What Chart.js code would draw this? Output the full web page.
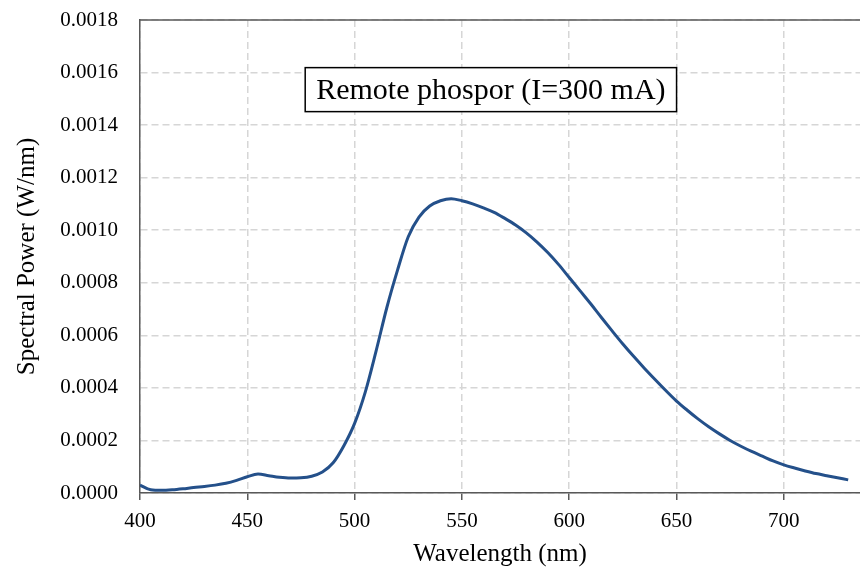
<!DOCTYPE html>
<html>
<head>
<meta charset="utf-8">
<script src="https://cdn.jsdelivr.net/npm/chart.js@4"></script>
<style>
  html, body { margin: 0; padding: 0; background: #fff; }
  #wrap { width: 860px; height: 569px; }
</style>
</head>
<body>
<div id="wrap"><canvas id="spectrum" width="860" height="569"></canvas></div>
<script>
//-------------------------------------------------------------
// Data
//-------------------------------------------------------------
const wavelengths = [
  400, 405, 410, 415, 420, 425, 430, 435, 440, 445,
  450, 455, 460, 465, 470, 475, 480, 485, 490, 495,
  500, 505, 510, 515, 520, 525, 530, 535, 540, 545,
  550, 555, 560, 565, 570, 575, 580, 585, 590, 595,
  600, 605, 610, 615, 620, 625, 630, 635, 640, 645,
  650, 655, 660, 665, 670, 675, 680, 685, 690, 695,
  700, 705, 710, 715, 720, 725, 730
];
const spectralPower = [
  0.000030, 0.000012, 0.000010, 0.000012, 0.000016, 0.000021, 0.000025, 0.000030, 0.000037, 0.000048,
  0.000062, 0.000072, 0.000066, 0.000060, 0.000057, 0.000058, 0.000064, 0.000080, 0.000115, 0.000180,
  0.000265, 0.000385, 0.000540, 0.000705, 0.000848, 0.000975, 0.001050, 0.001092, 0.001112, 0.001120,
  0.001112, 0.001100, 0.001085, 0.001068, 0.001045, 0.001020, 0.000990, 0.000955, 0.000915, 0.000870,
  0.000820, 0.000770, 0.000720, 0.000668, 0.000617, 0.000567, 0.000520, 0.000475, 0.000432, 0.000390,
  0.000350, 0.000315, 0.000282, 0.000252, 0.000225, 0.000200, 0.000178, 0.000158, 0.000140, 0.000122,
  0.000107, 0.000095, 0.000084, 0.000074, 0.000066, 0.000058, 0.000050
];
const xTicks = [400, 450, 500, 550, 600, 650, 700];
const yTicks = [0, 0.0002, 0.0004, 0.0006, 0.0008, 0.0010, 0.0012, 0.0014, 0.0016, 0.0018];
const labelText = "Remote phospor (I=300 mA)";

//-------------------------------------------------------------
// Styling
//-------------------------------------------------------------
const SERIF = "'Liberation Serif', 'Times New Roman', serif";
const AXIS_COLOR = "#595959";
const GRID_COLOR = "#d6d6d6";
const LINE_COLOR = "#24508a";

// plot frame top edge + label box
const framePlugin = {
  id: "frame",
  afterDraw(chart) {
    const { ctx, chartArea, scales } = chart;
    ctx.save();
    ctx.strokeStyle = AXIS_COLOR;
    ctx.lineWidth = 1.5;
    ctx.beginPath();
    ctx.moveTo(chartArea.left, chartArea.top);
    ctx.lineTo(chartArea.right, chartArea.top);
    ctx.stroke();

    // label box
    ctx.font = "30px " + SERIF;
    const w = ctx.measureText(labelText).width + 22;
    const h = 44;
    const cx = scales.x.getPixelForValue(563.5);
    const cy = scales.y.getPixelForValue(0.001535);
    ctx.fillStyle = "#fff";
    ctx.fillRect(cx - w / 2, cy - h / 2, w, h);
    ctx.strokeStyle = "#000";
    ctx.lineWidth = 1.5;
    ctx.strokeRect(cx - w / 2, cy - h / 2, w, h);
    ctx.fillStyle = "#000";
    ctx.textAlign = "center";
    ctx.textBaseline = "middle";
    ctx.fillText(labelText, cx, cy + 1);
    ctx.restore();
  },
};

new Chart(document.getElementById("spectrum"), {
  type: "line",
  data: {
    datasets: [
      {
        data: wavelengths.map((w, i) => ({ x: w, y: spectralPower[i] })),
        borderColor: LINE_COLOR,
        borderWidth: 3,
        pointRadius: 0,
        cubicInterpolationMode: "monotone",
        fill: false,
      },
    ],
  },
  options: {
    responsive: false,
    animation: false,
    layout: { padding: { top: 20, right: 0, left: 0, bottom: 0 } },
    plugins: { legend: { display: false }, tooltip: { enabled: false } },
    scales: {
      x: {
        type: "linear",
        min: 400,
        max: 735.5,
        afterBuildTicks: (s) => { s.ticks = xTicks.map((v) => ({ value: v })); },
        afterFit: (s) => { s.height = 76; s.paddingLeft = 0; s.paddingRight = 0; },
        ticks: {
          color: "#000",
          font: { family: SERIF, size: 21 },
          padding: 9,
          maxRotation: 0,
        },
        grid: {
          color: GRID_COLOR,
          tickBorderDash: [],
          tickColor: AXIS_COLOR,
          tickLength: 7,
          lineWidth: 1.5,
        },
        border: { color: AXIS_COLOR, width: 1.5, dash: [7, 4] },
        title: {
          display: true,
          text: "Wavelength (nm)",
          color: "#000",
          font: { family: SERIF, size: 25 },
          padding: { top: 0, bottom: 0 },
        },
      },
      y: {
        min: 0,
        max: 0.0018,
        afterBuildTicks: (s) => { s.ticks = yTicks.map((v) => ({ value: v })); },
        afterFit: (s) => { s.width = 140; s.paddingTop = 0; s.paddingBottom = 0; },
        ticks: {
          color: "#000",
          font: { family: SERIF, size: 21 },
          padding: 22,
          callback: (v) => Number(v).toFixed(4),
        },
        grid: {
          color: GRID_COLOR,
          drawTicks: false,
          lineWidth: 1.5,
        },
        border: { color: AXIS_COLOR, width: 1.5, dash: [7, 4] },
        title: {
          display: true,
          text: "Spectral Power (W/nm)",
          color: "#000",
          font: { family: SERIF, size: 25 },
          padding: { top: 12, bottom: 0 },
        },
      },
    },
  },
  plugins: [framePlugin],
});
</script>
</body>
</html>
